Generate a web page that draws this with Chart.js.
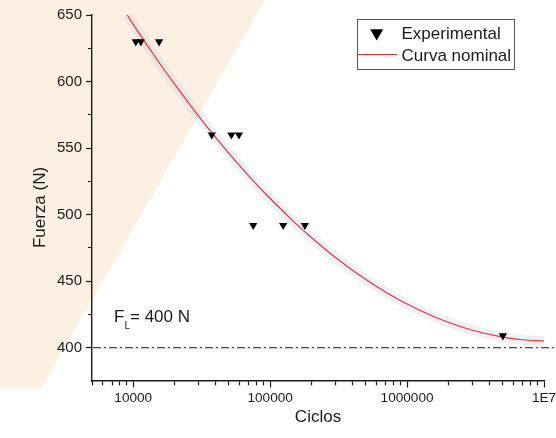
<!DOCTYPE html>
<html>
<head>
<meta charset="utf-8">
<script src="https://cdn.jsdelivr.net/npm/chart.js@4.4.1/dist/chart.umd.min.js"></script>
<style>
  html, body { margin: 0; padding: 0; background: #fff; }
  #wrap { width: 556px; height: 438px; position: relative; }
</style>
</head>
<body>
<div id="wrap"><canvas id="fatigueChart"></canvas></div>
<script>
// experimental results: cycles to failure and applied force (N)
var expCycles = [10430, 11360, 15450, 37500, 52100, 59200, 75200, 124500, 179200, 5010000];
var expForce  = [630, 630, 630, 560, 560, 560, 492, 492, 492, 409];

// nominal curve
var curveCycles = [9000, 10000, 15000, 20000, 30000, 40000, 50000, 70000, 100000, 150000, 200000,
                   300000, 500000, 700000, 1000000, 1500000, 2000000, 3000000, 5000000, 7000000, 10000000];
var curveForce  = [650.3, 643.0, 616.2, 598.2, 574.1, 558.0, 546.1, 529.0, 512.1, 494.4, 482.8,
                   467.8, 451.2, 441.7, 432.8, 424.2, 419.1, 413.1, 408.0, 406.0, 405.0];

var limitForce = 400;   // F_L

var xMajorTicks  = [10000, 100000, 1000000, 10000000];
var xMajorLabels = ['10000', '100000', '1000000', '1E7'];
var yMajorTicks  = [400, 450, 500, 550, 600, 650];
var yMinorTicks  = [425, 475, 525, 575, 625];

var FONT = "'Liberation Sans', Arial, Helvetica, sans-serif";
var INK = '#1a1a1a';
var RED = '#e3343e';

function toPoints(xs, ys) {
    var pts = [];
    for (var i = 0; i < xs.length; i++) pts.push({x: xs[i], y: ys[i]});
    return pts;
}

// minor ticks 2..9 inside each decade
var xAllTicks = [];
[1000, 10000, 100000, 1000000].forEach(function(d) {
    for (var k = 1; k <= 9; k++) {
        var v = k * d;
        if (v >= 5000) xAllTicks.push(v);
    }
});
xAllTicks.push(10000000);

function isXMajor(v) { return xMajorTicks.indexOf(v) >= 0; }
function isYMajor(v) { return yMajorTicks.indexOf(v) >= 0; }

var backdrop = {
    id: 'backdrop',
    beforeDraw: function(chart) {
        var ctx = chart.ctx;
        ctx.save();
        ctx.fillStyle = '#fbf0e2';
        ctx.beginPath();
        ctx.moveTo(0, 0);
        ctx.lineTo(265, 0);
        ctx.lineTo(41, 388);
        ctx.lineTo(0, 388);
        ctx.closePath();
        ctx.fill();
        ctx.restore();
    },
    beforeDatasetsDraw: function(chart) {
        var ctx = chart.ctx;
        var y = chart.scales.y.getPixelForValue(limitForce);
        ctx.save();
        ctx.strokeStyle = INK;
        ctx.lineWidth = 1;
        ctx.setLineDash([8, 3, 2, 3]);
        ctx.beginPath();
        ctx.moveTo(chart.chartArea.left + 1, y);
        ctx.lineTo(chart.width, y);
        ctx.stroke();
        ctx.restore();
    },
    afterDraw: function(chart) {
        var ctx = chart.ctx;
        ctx.save();
        ctx.fillStyle = INK;
        ctx.textBaseline = 'alphabetic';

        // axis titles
        ctx.font = '17px ' + FONT;
        ctx.textAlign = 'center';
        ctx.fillText('Ciclos', (chart.chartArea.left + chart.chartArea.right) / 2, 421.5);
        ctx.save();
        ctx.translate(44.5, 207.5);
        ctx.rotate(-Math.PI / 2);
        ctx.fillText('Fuerza (N)', 0, 0);
        ctx.restore();

        // F_L label
        ctx.textAlign = 'left';
        ctx.font = '17px ' + FONT;
        ctx.fillText('F', 114, 321.7);
        ctx.font = '10px ' + FONT;
        ctx.fillText('L', 124.5, 328.5);
        ctx.font = '17px ' + FONT;
        ctx.fillText('= ' + limitForce + ' N', 130, 321.7);

        // legend box
        ctx.fillStyle = '#fff';
        ctx.fillRect(357.5, 19.5, 157, 50);
        ctx.strokeStyle = '#555';
        ctx.lineWidth = 1;
        ctx.strokeRect(357.5, 19.5, 157, 50);

        var ds = chart.data.datasets;
        var rowY = [33, 54.5];
        var row = 0;
        ds.forEach(function(d) {
            if (!d.label) return;
            var y = rowY[row++];
            if (d.showLine) {
                ctx.strokeStyle = d.borderColor;
                ctx.lineWidth = 1.2;
                ctx.beginPath();
                ctx.moveTo(358, y);
                ctx.lineTo(397, y);
                ctx.stroke();
            } else {
                ctx.fillStyle = d.backgroundColor;
                Chart.helpers.drawPoint(ctx, {pointStyle: 'triangle', rotation: 180, radius: 7.5, borderWidth: 0}, 376.7, y);
            }
            ctx.fillStyle = INK;
            ctx.font = '17px ' + FONT;
            ctx.fillText(d.label, 401.5, y + 6.3);
        });
        ctx.restore();
    }
};

new Chart(document.getElementById('fatigueChart'), {
    type: 'scatter',
    plugins: [backdrop],
    data: {
        datasets: [{
            label: 'Experimental',
            data: toPoints(expCycles, expForce),
            pointStyle: 'triangle',
            rotation: 180,
            pointRadius: 4.8,
            pointBorderWidth: 0,
            backgroundColor: '#000',
            borderColor: '#000',
            order: 0
        }, {
            label: 'Curva nominal',
            data: toPoints(curveCycles, curveForce),
            showLine: true,
            borderColor: RED,
            borderWidth: 1.2,
            pointRadius: 0,
            cubicInterpolationMode: 'monotone',
            order: 1
        }, {
            // faint halo seen around the curve in the source
            data: toPoints(curveCycles, curveForce),
            showLine: true,
            borderColor: 'rgba(190, 205, 222, 0.28)',
            borderWidth: 10,
            pointRadius: 0,
            cubicInterpolationMode: 'monotone',
            order: 2
        }]
    },
    options: {
        responsive: true,
        maintainAspectRatio: false,
        animation: false,
        events: [],
        layout: { padding: { left: 0, top: 15, right: 12, bottom: 0 } },
        plugins: {
            legend: { display: false },
            tooltip: { enabled: false }
        },
        scales: {
            x: {
                type: 'logarithmic',
                min: 5000,
                max: 10000000,
                afterBuildTicks: function(scale) {
                    scale.ticks = xAllTicks.map(function(v) { return {value: v, major: isXMajor(v)}; });
                },
                afterFit: function(scale) {
                    scale.height = 57;
                    scale.paddingLeft = 0;
                    scale.paddingRight = 0;
                },
                border: { display: true, color: INK, width: 1.4 },
                grid: {
                    drawOnChartArea: false,
                    drawTicks: true,
                    tickLength: 6.5,
                    tickColor: INK,
                    tickWidth: 1.2,
                    tickBorderDash: function(ctx) {
                        return isXMajor(ctx.tick.value) ? [] : [4, 20];
                    }
                },
                ticks: {
                    autoSkip: false,
                    maxRotation: 0,
                    padding: 3,
                    color: INK,
                    font: { family: FONT, size: 13.6 },
                    callback: function(v) {
                        var i = xMajorTicks.indexOf(v);
                        return i >= 0 ? xMajorLabels[i] : '';
                    }
                }
            },
            y: {
                min: 375,
                max: 650,
                afterBuildTicks: function(scale) {
                    scale.ticks = yMajorTicks.concat(yMinorTicks)
                        .sort(function(a, b) { return a - b; })
                        .map(function(v) { return {value: v}; });
                },
                afterFit: function(scale) {
                    scale.width = 92;
                    scale.paddingTop = 0;
                    scale.paddingBottom = 0;
                },
                border: { display: true, color: INK, width: 1.4 },
                grid: {
                    drawOnChartArea: false,
                    drawTicks: true,
                    tickLength: 6,
                    tickColor: INK,
                    tickWidth: 1.2,
                    tickBorderDash: function(ctx) {
                        return isYMajor(ctx.tick.value) ? [] : [0, 2, 4, 20];
                    }
                },
                ticks: {
                    autoSkip: false,
                    padding: 4,
                    color: INK,
                    font: { family: FONT, size: 15 },
                    callback: function(v) {
                        return isYMajor(v) ? String(v) : '';
                    }
                }
            }
        }
    }
});
</script>
</body>
</html>
